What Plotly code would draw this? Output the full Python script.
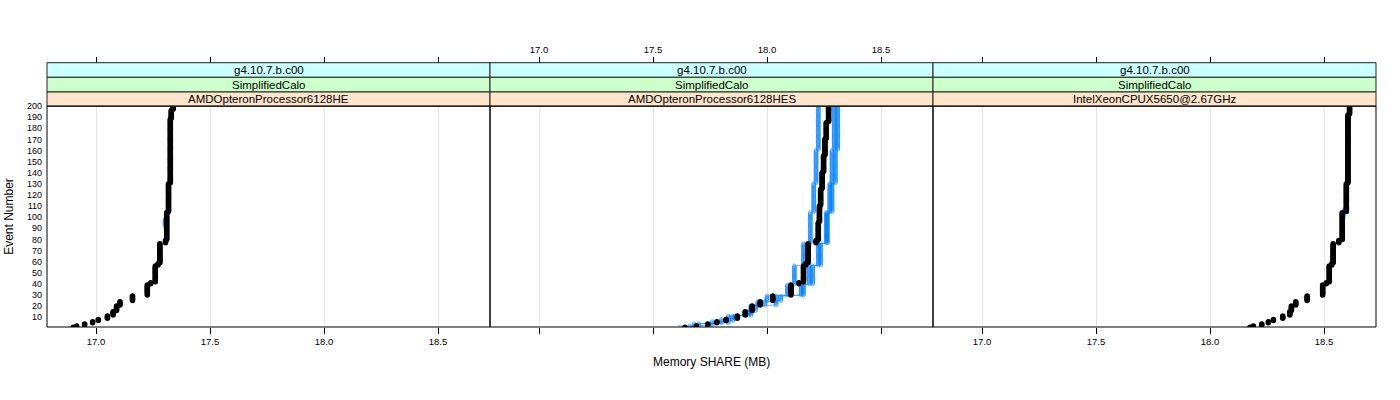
import numpy as np
import plotly.graph_objects as go

# ---------------- data ----------------
events = list(range(1, 201))

panel_names = ["AMDOpteronProcessor6128HE", "AMDOpteronProcessor6128HES", "IntelXeonCPUX5650@2.67GHz"]
strip_release = "g4.10.7.b.c00"
strip_test = "SimplifiedCalo"

x_tickvals = [17.0, 17.5, 18.0, 18.5]
x_ticktext = ["17.0", "17.5", "18.0", "18.5"]
y_tickvals = list(range(10, 201, 10))

# run-length encoded series: memory value (MB) and number of consecutive events at that value
he_black_mem = [16.90, 16.915, 16.95, 16.985, 17.01, 17.05, 17.075, 17.09, 17.105, 17.16, 17.225,
                17.24, 17.26, 17.272, 17.28, 17.305, 17.31, 17.318, 17.326, 17.33, 17.338]
he_black_n = [1, 1, 2, 2, 2, 3, 4, 5, 4, 5, 10, 2, 15, 2, 18, 3, 25, 26, 58, 8, 4]
he_blue_events = [92, 93, 94, 95, 96, 97, 98]
he_blue_mem = [17.303, 17.303, 17.303, 17.303, 17.303, 17.303, 17.303]

hes_black_mem = [17.64, 17.69, 17.74, 17.78, 17.82, 17.87, 17.905, 17.935, 17.97, 18.025, 18.105,
                 18.14, 18.16, 18.17, 18.18, 18.215, 18.225, 18.23, 18.235, 18.242, 18.248, 18.254,
                 18.26, 18.27]
hes_black_n = [1, 1, 2, 2, 2, 3, 4, 5, 4, 5, 10, 2, 15, 2, 18, 3, 16, 15, 15, 15, 15, 15, 15, 15]

hes_blue1_mem = [17.62, 17.70, 17.80, 17.86, 17.90, 17.93, 17.96, 18.00, 18.09, 18.12, 18.16,
                 18.19, 18.205, 18.215, 18.225]
hes_blue1_n = [1, 3, 4, 3, 4, 5, 4, 5, 10, 17, 20, 28, 26, 30, 40]
hes_blue2_mem = [17.66, 17.76, 17.85, 17.92, 17.95, 17.99, 18.06, 18.15, 18.185, 18.225, 18.26,
                 18.275, 18.285, 18.295]
hes_blue2_n = [2, 4, 5, 4, 5, 4, 5, 10, 17, 20, 28, 26, 30, 40]
hes_blue3_mem = [17.68, 17.83, 17.93, 18.04, 18.16, 18.20, 18.235, 18.265, 18.285, 18.30, 18.31]
hes_blue3_n = [4, 7, 9, 9, 10, 17, 20, 28, 26, 30, 40]

xeon_black_mem = [18.175, 18.19, 18.227, 18.256, 18.278, 18.319, 18.35, 18.357, 18.376, 18.426,
                  18.494, 18.51, 18.523, 18.534, 18.54, 18.565, 18.58, 18.598, 18.605, 18.612]
xeon_black_n = [1, 1, 2, 2, 2, 3, 4, 5, 4, 5, 10, 2, 15, 2, 18, 3, 25, 26, 62, 8]
xeon_blue_events = [101, 102, 103, 104, 105, 106, 107]
xeon_blue_mem = [18.585, 18.585, 18.585, 18.585, 18.59, 18.59, 18.59]

x_range = [16.785, 18.728]
y_range = [1.2, 200]


def expand(vals, counts):
    return list(np.repeat(vals, counts))


FONT = "Liberation Sans, Arial, Helvetica, sans-serif"
BLUE = "#0080ff"

fig = go.Figure()

def blue_trace(xs, ys, xa):
    return go.Scatter(x=xs, y=ys, xaxis=xa, yaxis="y", mode="lines+markers",
                      line=dict(color="rgba(0,128,255,0.6)", width=1),
                      marker=dict(symbol="circle-open", size=4, color="rgba(0,128,255,0.5)",
                                  line=dict(width=1, color="rgba(0,128,255,0.5)")),
                      showlegend=False, hoverinfo="skip")

def black_trace(xs, ys, xa, opacity=1.0):
    return go.Scatter(x=xs, y=ys, xaxis=xa, yaxis="y", mode="markers",
                      marker=dict(symbol="circle", size=5.5, color="black", opacity=opacity),
                      showlegend=False, hoverinfo="skip")

# panel 1
fig.add_trace(blue_trace(he_blue_mem, he_blue_events, "x"))
fig.add_trace(black_trace(expand(he_black_mem, he_black_n), events, "x"))
# panel 2
fig.add_trace(blue_trace(expand(hes_blue1_mem, hes_blue1_n), events, "x2"))
fig.add_trace(blue_trace(expand(hes_blue2_mem, hes_blue2_n), events, "x2"))
fig.add_trace(blue_trace(expand(hes_blue3_mem, hes_blue3_n), events, "x2"))
fig.add_trace(black_trace(expand(hes_black_mem, hes_black_n), events, "x2"))
# panel 3
fig.add_trace(blue_trace(xeon_blue_mem, xeon_blue_events, "x3"))
fig.add_trace(black_trace(expand(xeon_black_mem, xeon_black_n), events, "x3"))
# invisible carriers for top axes
fig.add_trace(black_trace(expand(he_black_mem, he_black_n), events, "x4", opacity=0))
fig.add_trace(black_trace(expand(hes_black_mem, hes_black_n), events, "x5", opacity=0))
fig.add_trace(black_trace(expand(xeon_black_mem, xeon_black_n), events, "x6", opacity=0))

H_PLOT = 400 - 63 - 73  # 264
ydom_top = 221 / H_PLOT
domains = [[0, 1 / 3], [1 / 3, 2 / 3], [2 / 3, 1]]

tickfont = dict(family=FONT, size=9.5, color="black")

base_x = dict(range=x_range, tickvals=x_tickvals, ticktext=x_ticktext, ticks="outside", ticklen=6,
              tickcolor="black", tickwidth=1, zeroline=False, showline=False, tickfont=tickfont,
              fixedrange=True, automargin=False)

layout_axes = {}
for i in range(3):
    name = "xaxis" if i == 0 else f"xaxis{i + 1}"
    layout_axes[name] = dict(base_x, domain=domains[i], anchor="y", side="bottom",
                             showgrid=True, gridcolor="#e6e6e6", gridwidth=1,
                             showticklabels=(i != 1))
    top = f"xaxis{i + 4}"
    layout_axes[top] = dict(base_x, domain=domains[i], anchor="free", position=1, side="top",
                            overlaying="x" if i == 0 else f"x{i + 1}", showgrid=False,
                            showticklabels=(i == 1))

fig.update_layout(**layout_axes)
fig.update_layout(
    yaxis=dict(range=y_range, domain=[0, ydom_top], anchor="x", tickvals=y_tickvals, ticks="",
               showgrid=False, zeroline=False, showline=False, automargin=False, fixedrange=True,
               tickfont=dict(family=FONT, size=9, color="black"),
               ticklabelstandoff=4,
               title=dict(text="Event Number", font=dict(family=FONT, size=12, color="black"), standoff=10)),
    width=1400, height=400, autosize=False,
    margin=dict(l=47, r=24, t=63, b=73, pad=0),
    plot_bgcolor="white", paper_bgcolor="white",
    font=dict(family=FONT, color="black"),
)

def py2paper(py):
    return (327 - py) / H_PLOT

strips = [(62.7, 77.3, "#CCFFFF", strip_release), (77.3, 92.0, "#CCFFCC", strip_test), (92.0, 106.3, "#FFE5CC", None)]
shapes = []
annotations = []
for i in range(3):
    xr = "x domain" if i == 0 else f"x{i + 1} domain"
    for (ytop, ybot, col, txt) in strips:
        shapes.append(dict(type="rect", xref=xr, yref="paper", x0=0, x1=1,
                           y0=py2paper(ybot), y1=py2paper(ytop), fillcolor=col,
                           line=dict(color="#222222", width=1), layer="above"))
        label = txt if txt is not None else panel_names[i]
        annotations.append(dict(xref=xr, yref="paper", x=0.5, y=py2paper((ytop + ybot) / 2),
                                text=label, showarrow=False, xanchor="center", yanchor="middle",
                                font=dict(family=FONT, size=11.5, color="black")))
    shapes.append(dict(type="rect", xref=xr, yref="y domain", x0=0, x1=1, y0=0, y1=1,
                       line=dict(color="black", width=1), layer="above"))

annotations.append(dict(xref="paper", yref="paper", x=0.5, y=py2paper(362), text="Memory SHARE (MB)",
                        showarrow=False, xanchor="center", yanchor="middle",
                        font=dict(family=FONT, size=12, color="black")))

fig.update_layout(shapes=shapes, annotations=annotations)

fig.write_html("out.html", config={"displayModeBar": False, "staticPlot": True},
               post_script="document.body.style.margin='0';document.body.style.overflow='hidden';")
